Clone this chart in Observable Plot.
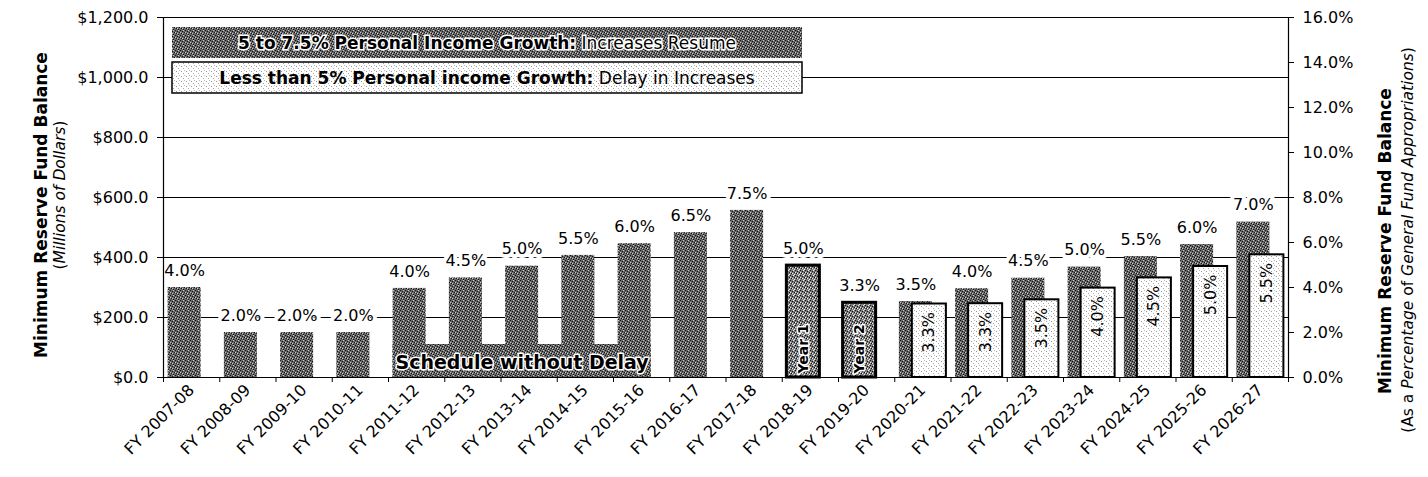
<!DOCTYPE html>
<html><head><meta charset="utf-8">
<script src="https://cdn.jsdelivr.net/npm/d3@7"></script>
<script src="https://cdn.jsdelivr.net/npm/@observablehq/plot@0.6"></script>
<style>
html,body{margin:0;padding:0;background:#fff;}
#chart{position:relative;width:1428px;height:477px;}
</style></head><body><div id="chart"></div>
<script>
// ---------------- data ----------------
const categories = ["FY 2007-08","FY 2008-09","FY 2009-10","FY 2010-11","FY 2011-12","FY 2012-13","FY 2013-14","FY 2014-15","FY 2015-16","FY 2016-17","FY 2017-18","FY 2018-19","FY 2019-20","FY 2020-21","FY 2021-22","FY 2022-23","FY 2023-24","FY 2024-25","FY 2025-26","FY 2026-27"];
// "5 to 7.5% growth" schedule (dark bars): balance in $ millions and percent label
const scheduleBalance = [300,150,150,150,297,332,371,407,446,483,557,373,249,253,296,331,368,403,443,518];
const schedulePercent = [4.0,2.0,2.0,2.0,4.0,4.5,5.0,5.5,6.0,6.5,7.5,5.0,3.3,3.5,4.0,4.5,5.0,5.5,6.0,7.0];
// "Less than 5% growth" delayed schedule (light bars)
const delayBalance = [null,null,null,null,null,null,null,null,null,null,null,null,null,245,246,259,298,332,370,409];
const delayPercent = [null,null,null,null,null,null,null,null,null,null,null,null,null,3.3,3.3,3.5,4.0,4.5,5.0,5.5];
// delay years
const yearCategories = ["FY 2018-19","FY 2019-20"];
const yearLabels = ["Year 1","Year 2"];
// annotation box
const scheduleNote = {from: "FY 2011-12", to: "FY 2015-16", balance: 110, label: "Schedule without Delay"};
// axes
const leftTicks = [0,200,400,600,800,1000,1200];
const rightTicks = [0,2,4,6,8,10,12,14,16];
const dollarsPerPercent = 75; // $600.0 <-> 8.0%
const legendItems = [
  {bold: "5 to 7.5% Personal Income Growth:", rest: " Increases Resume", fill: "url(#darkPat)", border: "none"},
  {bold: "Less than 5% Personal income Growth:", rest: " Delay in Increases", fill: "url(#lightPat)", border: "black"}
];
const leftTitle = {bold: "Minimum Reserve Fund Balance", sub: [["(", false], ["Millions of Dollars", true], [")", false]]};
const rightTitle = {bold: "Minimum Reserve Fund Balance", sub: [["(As a ", false], ["Percentage", true], [" of ", false], ["General", true], [" Fund ", true], ["Appropriations", true], [")", false]]};

// ---------------- derived rows ----------------
const idx = c => categories.indexOf(c);
const rows = categories.map((c, i) => ({
  i, c,
  sched: scheduleBalance[i], schedPct: schedulePercent[i],
  delay: delayBalance[i], delayPct: delayPercent[i],
  year: yearCategories.includes(c) ? yearLabels[yearCategories.indexOf(c)] : null
}));
const normal = rows.filter(d => !d.year);
const yearRows = rows.filter(d => d.year);
const delayRows = rows.filter(d => d.delay != null);

// bar geometry within a category (in category units)
const D1 = -0.418, D2 = 0.169, L1 = -0.187, L2 = 0.418;
const dc = (D1 + D2) / 2, lc = (L1 + L2) / 2;
const fmtPct = v => v.toFixed(1) + "%";
const font = "DejaVu Sans";

const W = 1428, H = 477;
const plot = Plot.plot({
  width: W, height: H,
  marginLeft: 163, marginRight: 140, marginTop: 17, marginBottom: 100,
  style: {fontFamily: font, fontSize: "16px", color: "black", background: "white"},
  x: {type: "linear", domain: [0, categories.length], axis: null},
  y: {domain: [0, 1200], axis: null},
  marks: [
    Plot.gridY(leftTicks, {stroke: "black", strokeOpacity: 1, strokeWidth: 1}),
    // dark schedule bars
    Plot.rect(normal, {x1: d => d.i + 0.5 + D1, x2: d => d.i + 0.5 + D2, y1: 0, y2: "sched", fill: "url(#darkPat)"}),
    // year bars
    Plot.rect(yearRows, {x1: d => d.i + 0.5 + D1, x2: d => d.i + 0.5 + D2, y1: 0, y2: "sched", fill: "url(#yearPat)", stroke: "black", strokeWidth: 3}),
    // delay bars
    Plot.rect(delayRows, {x1: d => d.i + 0.5 + L1, x2: d => d.i + 0.5 + L2, y1: 0, y2: "delay", fill: "url(#lightPat)", stroke: "black", strokeWidth: 2}),
    // schedule-without-delay box
    Plot.rect([scheduleNote], {x1: d => idx(d.from) + 0.5 + D1, x2: d => idx(d.to) + 0.5 + D2, y1: 0, y2: "balance", fill: "url(#darkPat)"}),
    Plot.text([scheduleNote], {x: d => (idx(d.from) + idx(d.to)) / 2 + 0.5 + dc, y: 0, dy: -15, text: "label", fontWeight: "bold", fontSize: 19, fill: "black", stroke: "white", strokeWidth: 3}),
    // percent labels above dark bars
    Plot.text(rows, {x: d => d.i + 0.5 + dc, y: "sched", dy: -17, text: d => fmtPct(d.schedPct), fontSize: 16, fill: "black", stroke: "white", strokeWidth: 8}),
    // rotated percent labels inside light bars
    Plot.text(delayRows, {x: d => d.i + 0.5 + lc, y: "delay", dy: 8, rotate: -90, textAnchor: "end", lineAnchor: "middle", text: d => fmtPct(d.delayPct), fontSize: 16, fill: "black"}),
    // year labels
    Plot.text(yearRows, {x: d => d.i + 0.5 + dc, y: 0, dy: -4, rotate: -90, textAnchor: "start", lineAnchor: "middle", text: "year", fontSize: 14, fontWeight: "bold", fill: "black", stroke: "white", strokeWidth: 3}),
    // axes
    Plot.ruleX([0, categories.length], {stroke: "black", strokeWidth: 1.2}),
    Plot.ruleY([0], {stroke: "black", strokeWidth: 1.2}),
    Plot.axisY(leftTicks, {anchor: "left", tickSize: 6, tickPadding: 9, tickFormat: d => "$" + d3.format(",.1f")(d), label: null, fontSize: 16}),
    Plot.axisY(rightTicks.map(p => p * dollarsPerPercent), {anchor: "right", tickSize: 5, tickPadding: 9, tickFormat: v => fmtPct(v / dollarsPerPercent), label: null, fontSize: 16}),
    Plot.axisX(d3.range(categories.length + 1), {tickSize: 5, tickFormat: () => "", label: null}),
    Plot.axisX(d3.range(categories.length).map(i => i + 0.5), {tickSize: 0, tickPadding: 10, tickRotate: -45, tickFormat: d => categories[Math.floor(d)], label: null, fontSize: 16})
  ]
});
document.getElementById("chart").appendChild(plot);

// ---------------- textures, legend and titles ----------------
const svg = d3.select(plot);
const defs = svg.insert("defs", ":first-child");
function makePattern(id, base, dots) {
  const p = defs.append("pattern").attr("id", id).attr("patternUnits", "userSpaceOnUse").attr("width", 5).attr("height", 5);
  p.append("rect").attr("width", 5).attr("height", 5).attr("fill", base);
  for (const [x, y, c] of dots) p.append("rect").attr("x", x).attr("y", y).attr("width", 1).attr("height", 1).attr("fill", c);
}
makePattern("darkPat", "#686868", [[0,0,"#111"],[2,1,"#111"],[4,2,"#111"],[1,3,"#111"],[3,4,"#111"],[3,0,"#ccc"],[0,2,"#ccc"],[2,3,"#ccc"]]);
makePattern("yearPat", "#7d7d7d", [[0,0,"#111"],[2,1,"#111"],[4,2,"#111"],[1,3,"#111"],[3,0,"#eee"],[0,2,"#eee"],[2,3,"#eee"],[4,4,"#eee"]]);
makePattern("lightPat", "#ffffff", [[1,1,"#999"],[3,3,"#aaa"],[4,0,"#bbb"]]);

// legend boxes
const lg = svg.append("g");
const boxX = 172, boxW = 630, boxH = 31, boxY = [27, 62];
legendItems.forEach((d, k) => {
  lg.append("rect").attr("x", boxX).attr("y", boxY[k]).attr("width", boxW).attr("height", boxH)
    .attr("fill", d.fill).attr("stroke", d.border).attr("stroke-width", 1.5);
  const t = lg.append("text").attr("x", boxX + boxW / 2).attr("y", boxY[k] + boxH / 2).attr("dy", "0.36em")
    .attr("text-anchor", "middle").attr("font-family", font).attr("font-size", 17).attr("fill", "black")
    .attr("stroke", k === 0 ? "white" : "none").attr("stroke-width", 3).attr("paint-order", "stroke");
  t.append("tspan").attr("font-weight", "bold").text(d.bold);
  t.append("tspan").text(d.rest);
});

// axis titles
function title(cx, cyBold, cySub, xSub, spec) {
  const g = svg.append("g").attr("font-family", font).attr("fill", "black");
  g.append("text").attr("transform", `translate(${cx},${cyBold}) rotate(-90)`).attr("dy", "0.36em")
    .attr("text-anchor", "middle").attr("font-weight", "bold").attr("font-size", 17).text(spec.bold);
  const t = g.append("text").attr("transform", `translate(${xSub},${cySub}) rotate(-90)`).attr("dy", "0.36em")
    .attr("text-anchor", "middle").attr("font-size", 15.5);
  for (const [s, it] of spec.sub) t.append("tspan").attr("font-style", it ? "italic" : "normal").text(s);
}
title(41, 205, 195, 59, leftTitle);
title(1385, 241, 240, 1407, rightTitle);
</script></body></html>
